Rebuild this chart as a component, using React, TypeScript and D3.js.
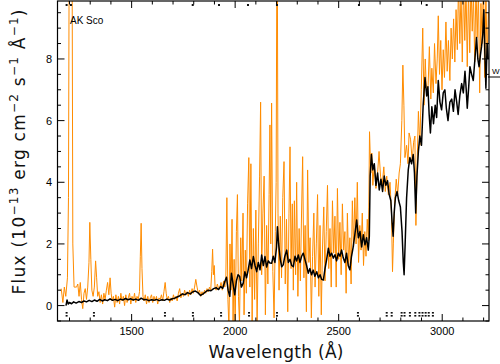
import React from 'react';
import * as d3 from 'd3';

const W = 500, H = 364;
const plot = { left: 57.5, right: 489, top: 1, bottom: 321 };

const waveTicks = [1500, 2000, 2500, 3000];
const fluxTicks = [0, 2, 4, 6, 8];
const topMarks = [1186, 1207, 1795, 1922, 2062, 2202, 2598, 2799, 2925];
const bottomMarks = [1186, 1318, 1661, 1796, 1932, 2067, 2202, 2593, 2732, 2756, 2804, 2818, 2844, 2870, 2890, 2905, 2920, 2935, 2955];

// observed spectrum (orange)
const orangeSpec: [number, number][] = [
  [1160, 0.55], [1168, 0.1], [1175, 0.6], [1182, 0.3], [1190, 0.9], [1195, 3.5], [1198, 10.5], [1204, 11], [1209, 10.5],
  [1213, 10], [1216, 2.0], [1222, 0.6], [1234, 0.6], [1240, 0.7], [1246, 0.3], [1252, 0.75], [1258, 0.2], [1264, -0.1],
  [1270, 0.4], [1276, 0.55], [1282, 0.2], [1288, 0.6], [1294, 1.4], [1298, 2.7], [1303, 1.5], [1308, 0.5], [1314, 0.3],
  [1320, 0.6], [1326, 1.45], [1331, 0.9], [1336, 0.3], [1342, 0.45], [1348, 0.1], [1354, 0.35], [1360, 0.05], [1366, 0.4],
  [1372, 0.2], [1378, 0.5], [1384, 0.75], [1390, 0.35], [1396, 0.9], [1401, 0.4], [1406, 0.15], [1412, 0.3], [1418, -0.05],
  [1424, 0.35], [1430, 0.1], [1436, 0.3], [1442, 0.05], [1448, 0.4], [1454, 0.15], [1460, 0.3], [1466, 0.0], [1472, 0.35],
  [1478, 0.1], [1484, 0.25], [1490, 0.4], [1496, 0.05], [1502, 0.3], [1508, 0.15], [1514, 0.4], [1520, 0.1], [1526, 0.3],
  [1532, 0.2], [1538, 0.45], [1542, 1.6], [1546, 2.67], [1550, 1.2], [1555, 0.3], [1560, 0.15], [1566, 0.35], [1572, 0.05],
  [1578, 0.3], [1584, 0.1], [1590, 0.25], [1596, 0.35], [1602, 0.1], [1608, 0.3], [1614, 0.15], [1620, 0.3], [1626, 0.05],
  [1632, 0.25], [1638, 0.2], [1644, 0.35], [1650, 0.15], [1656, 0.45], [1662, 0.75], [1667, 0.4], [1672, 0.2], [1678, 0.3],
  [1684, 0.1], [1690, 0.25], [1696, 0.15], [1702, 0.35], [1708, 0.2], [1714, 0.3], [1720, 0.15], [1726, 0.4], [1732, 0.55],
  [1738, 0.25], [1744, 0.4], [1750, 0.3], [1756, 0.5], [1762, 0.35], [1768, 0.45], [1774, 0.3], [1780, 0.5], [1786, 0.35],
  [1792, 0.55], [1798, 0.4], [1804, 0.6], [1810, 0.85], [1816, 0.6], [1822, 0.4], [1828, 0.5], [1834, 0.3], [1840, 0.45],
  [1846, 0.35], [1852, 0.5], [1858, 0.4], [1864, 0.55], [1870, 0.45], [1876, 0.6], [1882, 0.5], [1887, 1.1], [1891, 1.83],
  [1895, 1.0], [1899, 1.3], [1903, 0.6], [1908, 0.5], [1914, 0.7], [1920, 0.55], [1926, 0.6], [1932, 0.75], [1938, 0.5],
  [1944, 0.8], [1950, 0.6],
  [1955, 0.9], [1960, 3.5], [1965, 0.2], [1970, -0.7], [1975, 2.0], [1980, 0.5], [1985, 2.8], [1990, -0.6], [1995, 1.5],
  [2000, -0.7], [2006, 2.4], [2011, 3.6], [2016, 0.3], [2021, -0.6], [2027, 2.2], [2032, 0.8], [2038, 3.0], [2043, -0.3],
  [2049, 1.8], [2054, 0.4], [2060, 3.3], [2066, 4.8], [2071, 0.6], [2076, 4.6], [2082, -0.5], [2088, 2.5], [2094, 0.2],
  [2100, 3.1], [2106, -0.6], [2112, 2.0], [2118, 4.2], [2123, 6.6], [2128, 1.0], [2134, 3.0], [2140, 4.2], [2146, -0.3],
  [2152, 2.6], [2158, 0.7], [2164, 3.6], [2168, 5.86], [2172, 2.0], [2176, 6.57], [2182, 1.1], [2188, -0.4], [2194, 2.4],
  [2198, 4.0], [2201, 10.5], [2204, 10.5], [2207, 3.0], [2212, 0.5], [2218, 2.9], [2224, 0.9], [2230, 3.5], [2236, 4.67],
  [2242, 0.7], [2248, 2.8], [2254, -0.2], [2260, 3.0], [2265, 5.15], [2270, 1.2], [2276, 3.3], [2281, 0.5], [2286, 3.4],
  [2292, 1.0], [2297, 4.0], [2303, 0.3], [2309, 2.5], [2315, 0.8], [2321, 3.1], [2326, 4.83], [2332, 0.9], [2338, 2.6],
  [2344, -0.2], [2350, 4.4], [2356, 1.4], [2362, 2.2], [2368, -0.4], [2374, 1.6], [2380, 3.0], [2386, 0.6], [2392, 2.0],
  [2398, 3.6], [2404, 0.3], [2410, 2.6], [2416, -0.3], [2422, 1.9], [2428, 3.2], [2434, 0.8], [2440, 2.4], [2446, 3.9],
  [2452, 1.2], [2458, 2.5], [2464, 0.6], [2470, 3.4], [2476, 1.7], [2482, 2.9], [2488, 0.6], [2494, 3.8], [2500, 1.5],
  [2506, 2.7], [2512, 1.0], [2518, 3.3], [2524, 1.8], [2530, 2.4], [2536, 0.4], [2542, 3.0], [2548, 1.3], [2554, 2.2],
  [2560, 0.7], [2566, 3.4], [2572, 1.9], [2578, 3.5], [2584, 2.0], [2590, 4.0], [2596, 1.4], [2602, 2.6], [2608, 1.8],
  [2614, 3.0], [2620, 1.3], [2626, 2.4], [2632, 1.6], [2638, 2.8], [2644, 2.1],
  [2649, 5.64], [2655, 4.3], [2660, 4.95], [2665, 3.9], [2672, 4.6], [2680, 3.8], [2688, 4.3], [2695, 5.0], [2702, 4.2],
  [2710, 3.9], [2718, 4.5], [2725, 3.7], [2732, 4.2], [2740, 3.6], [2748, 4.0], [2755, 3.0], [2760, 1.1], [2764, 2.0],
  [2770, 3.3], [2778, 4.1], [2785, 3.6], [2792, 4.3], [2798, 4.6], [2805, 6.0], [2810, 7.8], [2815, 6.5], [2820, 4.8],
  [2828, 5.2], [2835, 4.6], [2840, 5.6], [2847, 5.4], [2855, 4.7], [2862, 5.3], [2868, 5.5], [2873, 2.6], [2878, 4.3],
  [2885, 6.3], [2892, 5.2], [2899, 7.0], [2906, 9.0], [2912, 6.5], [2918, 8.0], [2925, 6.8], [2932, 7.15], [2938, 8.4],
  [2945, 6.7], [2950, 7.7], [2957, 6.9], [2963, 8.5], [2970, 7.2], [2976, 8.0], [2981, 9.4], [2987, 7.5], [2993, 8.6],
  [2999, 7.0], [3005, 8.3], [3011, 7.4], [3018, 9.2], [3024, 7.6], [3030, 8.6], [3037, 7.3], [3043, 9.0], [3049, 8.0],
  [3055, 9.3], [3061, 7.9], [3067, 9.6], [3073, 8.3], [3079, 10.5], [3085, 8.5], [3091, 10.2], [3097, 7.9], [3103, 10.5],
  [3109, 8.6], [3115, 10.4], [3121, 7.75], [3127, 10.3], [3133, 8.2], [3139, 10.5], [3145, 8.9], [3151, 10.1], [3157, 7.9],
  [3163, 10.4], [3169, 8.7], [3175, 10.2], [3181, 6.9], [3187, 9.8], [3193, 8.5], [3199, 10.6], [3205, 7.4], [3211, 10.2],
  [3217, 8.0], [3223, 9.5],
];

// comparison spectrum (black)
const blackSpec: [number, number][] = [
  [1183, 0.0], [1188, 0.18], [1194, 0.05], [1200, 0.1], [1210, 0.06], [1220, 0.12], [1232, 0.08], [1245, 0.13], [1258, 0.1],
  [1270, 0.15], [1282, 0.12], [1295, 0.17], [1308, 0.13], [1320, 0.18], [1333, 0.14], [1346, 0.2], [1358, 0.15], [1370, 0.19],
  [1383, 0.16], [1396, 0.22], [1408, 0.17], [1420, 0.2], [1433, 0.16], [1446, 0.21], [1458, 0.18], [1470, 0.23], [1483, 0.19],
  [1496, 0.22], [1508, 0.18], [1520, 0.21], [1533, 0.17], [1546, 0.24], [1558, 0.19], [1570, 0.2], [1583, 0.16], [1596, 0.19],
  [1608, 0.17], [1620, 0.2], [1633, 0.16], [1646, 0.19], [1658, 0.17], [1670, 0.21], [1683, 0.18], [1696, 0.22], [1708, 0.24],
  [1720, 0.28], [1733, 0.32], [1746, 0.38], [1758, 0.35], [1770, 0.42], [1783, 0.38], [1796, 0.45], [1808, 0.47], [1820, 0.42],
  [1833, 0.33], [1845, 0.38], [1858, 0.45], [1870, 0.5], [1883, 0.48], [1896, 0.55], [1908, 0.58], [1920, 0.52], [1930, 0.62],
  [1940, 0.56], [1950, 0.78], [1958, 0.92], [1966, 0.5], [1974, 0.3], [1982, 1.05], [1990, 0.7], [1998, 0.35], [2006, 0.8],
  [2014, 1.0], [2022, 0.94], [2030, 0.6], [2039, 0.73], [2047, 1.1], [2055, 0.9], [2063, 1.16], [2071, 1.48], [2079, 1.2],
  [2088, 1.59], [2096, 1.3], [2104, 1.1], [2112, 1.4], [2120, 1.16], [2128, 1.64], [2136, 1.3], [2144, 1.59], [2152, 1.25],
  [2160, 1.45], [2168, 1.38], [2176, 1.37], [2184, 1.6], [2192, 1.4], [2200, 1.9], [2204, 2.56], [2210, 2.0], [2218, 1.5],
  [2225, 1.26], [2232, 1.32], [2240, 1.6], [2249, 1.8], [2257, 1.4], [2265, 1.5], [2273, 1.3], [2281, 1.26], [2289, 1.6],
  [2297, 1.45], [2305, 1.64], [2313, 1.4], [2321, 1.6], [2329, 1.7], [2337, 1.5], [2345, 1.3], [2353, 1.05], [2361, 1.2],
  [2369, 1.0], [2377, 1.15], [2385, 0.95], [2394, 1.1], [2402, 0.9], [2410, 1.0], [2418, 0.85], [2426, 0.83], [2434, 1.2],
  [2442, 1.5], [2450, 1.86], [2458, 1.6], [2466, 1.7], [2474, 1.54], [2482, 1.65], [2490, 1.45], [2498, 1.7], [2506, 1.6],
  [2514, 1.8], [2522, 1.55], [2530, 1.4], [2538, 1.7], [2546, 1.3], [2554, 1.16], [2562, 1.6], [2570, 1.9], [2578, 2.3],
  [2587, 2.78], [2595, 2.2], [2603, 2.4], [2611, 1.9], [2619, 2.3], [2627, 1.97], [2635, 2.2], [2643, 1.8], [2648, 2.24],
  [2652, 4.2], [2658, 4.9], [2665, 4.4], [2672, 4.6], [2680, 3.9], [2688, 4.3], [2696, 3.75], [2704, 4.1], [2712, 3.7],
  [2720, 4.2], [2728, 3.9], [2736, 4.05], [2744, 3.6], [2752, 3.4], [2758, 2.7], [2763, 2.25], [2768, 3.0], [2774, 3.5],
  [2782, 3.7], [2790, 3.4], [2798, 3.2], [2806, 2.4], [2812, 1.4], [2816, 1.0], [2821, 2.0], [2828, 3.5], [2836, 4.4],
  [2844, 4.8], [2852, 4.6], [2860, 4.9], [2866, 4.3], [2872, 3.0], [2878, 4.2], [2885, 5.0], [2892, 5.5], [2900, 5.2],
  [2908, 6.5], [2917, 7.4], [2925, 6.8], [2931, 7.1], [2937, 6.2], [2943, 5.6], [2950, 6.45], [2958, 5.9], [2966, 6.5],
  [2973, 6.1], [2981, 7.3], [2989, 6.6], [2997, 6.35], [3005, 6.9], [3013, 7.0], [3020, 6.4], [3028, 6.0], [3037, 6.6],
  [3046, 6.7], [3054, 6.3], [3062, 7.0], [3070, 6.6], [3077, 6.2], [3085, 6.8], [3094, 7.2], [3102, 6.9], [3110, 7.6],
  [3116, 7.0], [3121, 6.4], [3128, 7.1], [3134, 7.75], [3142, 7.5], [3150, 7.3], [3158, 8.0], [3166, 8.7], [3172, 8.0],
  [3178, 7.75], [3184, 8.1], [3190, 8.4], [3196, 8.8], [3201, 9.6], [3206, 8.2], [3211, 7.05], [3217, 8.5], [3222, 8.0],
];

export default function App() {
  const x = d3.scaleLinear().domain([1142, 3226]).range([plot.left, plot.right]);
  const y = d3.scaleLinear().domain([-0.5, 9.88]).range([plot.bottom, plot.top]);

  const line = d3.line<[number, number]>().x(d => x(d[0])).y(d => y(d[1]));

  const minorX = d3.range(1200, 3300, 100);
  const minorY = d3.range(-0.5, 10, 0.5);
  const font = "'Liberation Sans', Arial, sans-serif";
  const labelFont = "'DejaVu Sans', sans-serif";

  return (
    <svg width={W} height={H} style={{ position: 'absolute', left: 0, top: 0, background: '#fff' }}>
      <defs>
        <clipPath id="plotArea">
          <rect x={plot.left} y={plot.top} width={plot.right - plot.left} height={plot.bottom - plot.top} />
        </clipPath>
      </defs>

      <g clipPath="url(#plotArea)">
        <path d={line(orangeSpec) || ''} fill="none" stroke="#ff8c00" strokeWidth={1} strokeLinejoin="round" />
        <path d={line(blackSpec) || ''} fill="none" stroke="#000" strokeWidth={1.5} strokeLinejoin="round" />
      </g>

      {/* line id marks */}
      {topMarks.map((w, i) => (
        <rect key={'t' + i} x={x(w) - 1} y={4} width={2} height={2} fill="#111" />
      ))}
      {bottomMarks.map((w, i) => (
        <g key={'b' + i}>
          <rect x={x(w) - 1} y={312} width={2} height={1.6} fill="#111" />
          <rect x={x(w) - 1} y={315} width={2} height={1.6} fill="#111" />
        </g>
      ))}

      {/* frame */}
      <rect x={plot.left} y={plot.top} width={plot.right - plot.left} height={plot.bottom - plot.top}
        fill="none" stroke="#000" strokeWidth={1.2} />

      {/* x ticks */}
      {minorX.map(w => {
        const major = waveTicks.includes(w);
        const len = major ? 7 : 3.5;
        return (
          <g key={'x' + w}>
            <line x1={x(w)} x2={x(w)} y1={plot.bottom} y2={plot.bottom - len} stroke="#000" />
            <line x1={x(w)} x2={x(w)} y1={plot.top} y2={plot.top + len} stroke="#000" />
          </g>
        );
      })}
      {waveTicks.map(w => (
        <text key={'xl' + w} x={x(w)} y={335} textAnchor="middle" fontFamily={font} fontSize={11}>{w}</text>
      ))}

      {/* y ticks */}
      {minorY.map(v => {
        const major = fluxTicks.includes(v);
        const len = major ? 7 : 3.5;
        return (
          <g key={'y' + v}>
            <line x1={plot.left} x2={plot.left + len} y1={y(v)} y2={y(v)} stroke="#000" />
            <line x1={plot.right} x2={plot.right - len} y1={y(v)} y2={y(v)} stroke="#000" />
          </g>
        );
      })}
      {fluxTicks.map(v => (
        <text key={'yl' + v} x={52} y={y(v) + 4} textAnchor="end" fontFamily={font} fontSize={11}>{v}</text>
      ))}

      {/* annotations */}
      <text x={70} y={24} fontFamily={font} fontSize={10}>AK Sco</text>
      <text x={492} y={74} fontFamily={font} fontSize={8}>W</text>
      <line x1={488} x2={500} y1={77} y2={77} stroke="#000" />

      {/* axis labels */}
      <text x={276} y={358} textAnchor="middle" fontFamily={labelFont} fontSize={17} fill="#111"
        textLength={135} lengthAdjust="spacing">Wavelength (Å)</text>
      <text transform="translate(25,152) rotate(-90)" textAnchor="middle" fontFamily={labelFont}
        fontSize={17} fill="#111" textLength={285} lengthAdjust="spacing">
        Flux (10<tspan dy={-7} fontSize={12}>−13</tspan><tspan dy={7}> erg cm</tspan>
        <tspan dy={-7} fontSize={12}>−2</tspan><tspan dy={7}> s</tspan>
        <tspan dy={-7} fontSize={12}>−1</tspan><tspan dy={7}> Å</tspan>
        <tspan dy={-7} fontSize={12}>−1</tspan><tspan dy={7}>)</tspan>
      </text>
    </svg>
  );
}
